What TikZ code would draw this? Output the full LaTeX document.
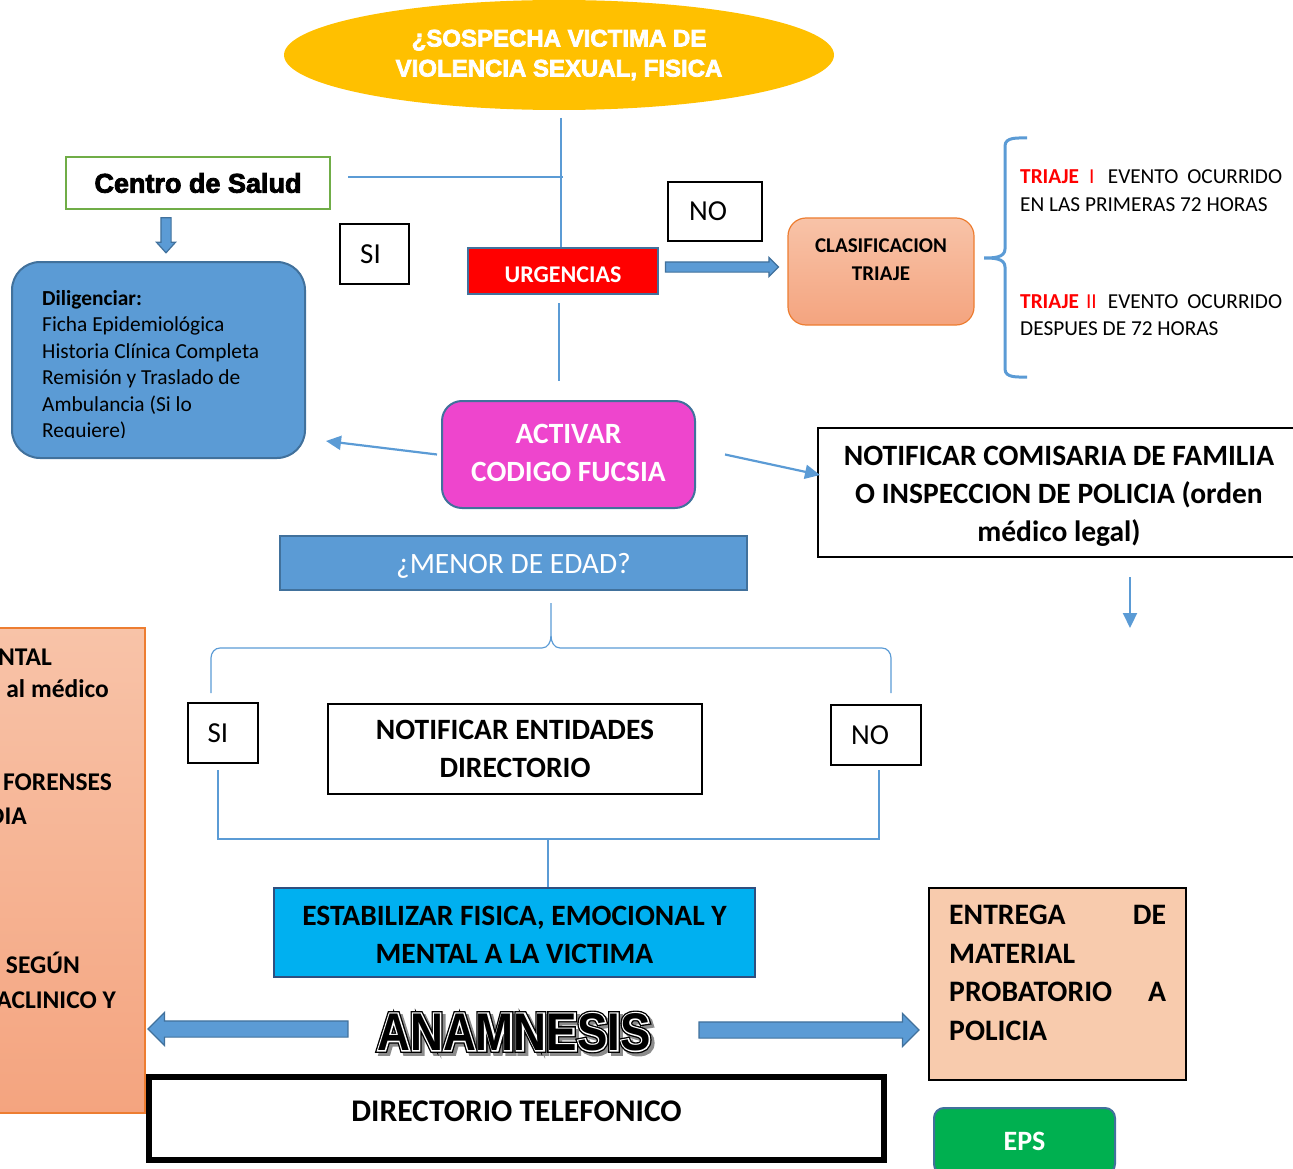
\documentclass[tikz,border=0pt]{standalone}
\usepackage{fontspec}
\setmainfont{Carlito}
\newfontfamily\arialfont[FakeBold=3]{Liberation Sans Bold}
\newfontfamily\anamcore[FakeStretch=0.86]{Liberation Sans Bold}
\newfontfamily\anamwhite[FakeStretch=0.86,FakeBold=5]{Liberation Sans Bold}
\newfontfamily\anamouter[FakeStretch=0.86,FakeBold=10]{Liberation Sans Bold}
\usetikzlibrary{shapes.geometric,shapes.arrows,arrows.meta}
\definecolor{lblue}{HTML}{5B9BD5}
\definecolor{dblue}{HTML}{41719C}
\definecolor{navyc}{HTML}{2F4F7F}
\definecolor{yellowc}{HTML}{FFC000}
\definecolor{fucsia}{HTML}{EE45CD}
\definecolor{cyanc}{HTML}{00B0F0}
\definecolor{epsgreen}{HTML}{00B050}
\definecolor{csgreen}{HTML}{70AD47}
\definecolor{peach}{HTML}{F8CBAD}
\definecolor{orangec}{HTML}{ED7D31}
\definecolor{ortop}{HTML}{F8C3A8}
\definecolor{orbot}{HTML}{F4A47F}
\newcommand\fs[2]{\fontsize{#1}{#2}\selectfont}
\newcommand\shiftv[2]{\raisebox{#1}[\height][\depth]{#2}}
\newcommand\mlines[2]{\raisebox{#1}[\height][\depth]{\begin{tabular}{@{}c@{}}#2\end{tabular}}}
\begin{document}
\begin{tikzpicture}[x=1pt,y=-1pt,
  box/.style={draw=black,line width=1.5pt,inner sep=0pt},
  conn/.style={draw=lblue,line width=1.2pt},
  thinarr/.style={draw=lblue,line width=2.2pt,-{Triangle[length=15pt,width=14pt]}},
  blockarr/.style={single arrow,draw=dblue,fill=lblue,line width=1.2pt,single arrow tip angle=90},
  bracestyle/.style={draw=lblue,line width=3pt},
  ]
\useasboundingbox (0,0) rectangle (1293,1169);
\clip (0,0) rectangle (1293,1169);

% top ellipse
\node[ellipse,fill=yellowc,minimum width=550pt,minimum height=110pt,inner sep=0pt,
  text=white,font=\arialfont\fs{24}{30},align=center] (ell) at (559,55)
  {¿SOSPECHA VICTIMA DE\\VIOLENCIA SEXUAL, FISICA};

% centro de salud
\node[draw=csgreen,line width=2.5pt,minimum width=264pt,minimum height=52pt,inner sep=0pt,
  font=\arialfont\fs{27}{30}] (cs) at (198,183) {Centro de Salud};
\node[blockarr,shape border rotate=270,minimum height=35pt,inner sep=4.5pt,
  single arrow head extend=4.5pt,single arrow tip angle=84] (csarr) at (166,232.5) {};

% SI / NO top
\node[box,minimum width=69pt,minimum height=60pt,font=\fs{29}{32}] (si1) at (374.5,254) {\hspace*{-8pt}SI};
\node[box,minimum width=94pt,minimum height=59pt,font=\fs{29}{32}] (no1) at (715,211.5) {\hspace*{-14pt}NO};

% urgencias
\node[fill=red,draw=dblue,line width=2.5pt,minimum width=190pt,minimum height=46pt,inner sep=0pt,
  text=white,font=\bfseries\fs{24}{26}] (urg) at (563,271) {\shiftv{-4pt}{URGENCIAS}};

\coordinate (t1) at (561,118);
\draw[conn] (t1) -- (t1 |- urg.north);
\coordinate (h1) at (348,177);
\coordinate (h2) at (563,177);
\draw[conn] (h1) -- (h2);
\coordinate (u1) at (559,303);
\coordinate (u2) at (559,381);
\draw[conn] (u1) -- (u2);

\node[blockarr,minimum height=113pt,inner sep=4.5pt,single arrow head extend=4.5pt] (urgarr) at (719.5,267) {};

% clasificacion
\node[draw=orangec,line width=1.2pt,rounded corners=18pt,top color=ortop,bottom color=orbot,
  minimum width=186pt,minimum height=107pt,inner sep=0pt,font=\bfseries\fs{21}{28}] (clas) at (881,271.5)
  {\mlines{11pt}{CLASIFICACION\\TRIAJE}};

% brace triaje
\draw[bracestyle] (1027,138) to[out=180,in=90] (1005,146) -- (1005,249)
  to[out=270,in=0] (984,258) to[out=0,in=90] (1005,267) -- (1005,369)
  to[out=270,in=180] (1027,377);

\node[anchor=north west,inner sep=0pt,align=left,font=\fs{21.3}{28}] (tr1) at (1020,169)
  {\hbox to 262pt{\textcolor{red}{\bfseries TRIAJE}\hspace{10pt}\textcolor{red}{I}\hfill EVENTO\hspace{9pt}OCURRIDO}\\
   EN LAS PRIMERAS 72 HORAS};
\node[anchor=north west,inner sep=0pt,align=left,font=\fs{21.3}{27}] (tr2) at (1020,294)
  {\hbox to 262pt{\textcolor{red}{\bfseries TRIAJE}\hspace{7pt}\textcolor{red}{II}\hfill EVENTO\hspace{9pt}OCURRIDO}\\
   DESPUES DE 72 HORAS};

% diligenciar
\node[fill=lblue,draw=dblue,line width=2pt,rounded corners=28pt,minimum width=293pt,minimum height=196pt] (dil) at (158.5,360) {};
\begin{scope}
\clip (14,264) rectangle (303,437.5);
\node[anchor=north west,inner sep=0pt,align=left,font=\fs{21.4}{26.5}] (dilt) at (42,290)
  {\textbf{Diligenciar:}\\Ficha Epidemiológica\\Historia Clínica Completa\\Remisión y Traslado de\\Ambulancia (Si lo\\Requiere)};
\end{scope}

% activar
\node[fill=fucsia,draw=dblue,line width=2pt,rounded corners=20pt,minimum width=253pt,minimum height=107pt,inner sep=0pt,
  text=white,font=\bfseries\fs{29.4}{38}] (act) at (568.5,454.5) {\mlines{0pt}{ACTIVAR\\CODIGO FUCSIA}};

% notificar comisaria
\node[box,minimum width=482pt,minimum height=129pt,font=\bfseries\fs{29.5}{38}] (notif) at (1059,492.5)
  {\mlines{-3pt}{NOTIFICAR COMISARIA DE FAMILIA\\O INSPECCION DE POLICIA (orden\\médico legal)}};

\coordinate (dlt) at (326,441);
\draw[thinarr] ([xshift=-4pt]act.west) -- (dlt);
\coordinate (nott) at (820,475);
\draw[thinarr] ([xshift=29pt]act.east) -- (nott);
\coordinate (nd1) at (1130,577);
\coordinate (nd2) at (1130,628);
\draw[thinarr] (nd1) -- (nd2);

% menor de edad
\node[fill=lblue,draw=dblue,line width=2pt,minimum width=467pt,minimum height=54pt,inner sep=0pt,
  text=white,font=\fs{29.5}{32}] (menor) at (513.5,563) {\shiftv{-3pt}{¿MENOR DE EDAD?}};

\coordinate (mb) at (551,603);
\draw[conn] (mb) -- (551,636) to[out=270,in=0] (542,648) -- (220,648) to[out=180,in=90] (211,658) -- (211,693);
\draw[conn] (551,636) to[out=270,in=180] (560,648) -- (882,648) to[out=0,in=90] (891,658) -- (891,693);

% SI / entidades / NO
\node[box,minimum width=70pt,minimum height=60pt,font=\fs{29}{32}] (si2) at (223,733) {\hspace*{-10pt}SI};
\node[box,minimum width=374pt,minimum height=90pt,font=\bfseries\fs{29.5}{38}] (ent) at (515,749)
  {\mlines{-2pt}{NOTIFICAR ENTIDADES\\DIRECTORIO}};
\node[box,minimum width=90pt,minimum height=60pt,font=\fs{29}{32}] (no2) at (876,735) {\hspace*{-12pt}NO};

% estabilizar
\node[fill=cyanc,draw=navyc,line width=2pt,minimum width=481pt,minimum height=89pt,inner sep=0pt,
  font=\bfseries\fs{29.5}{38}] (estab) at (514.5,932.5)
  {\mlines{-4pt}{ESTABILIZAR FISICA, EMOCIONAL Y\\MENTAL A LA VICTIMA}};

\coordinate (sib) at (218,770);
\coordinate (nob) at (879,770);
\coordinate (jn) at (548,839);
\draw[conn] (sib) |- (jn) -| (nob);
\draw[conn] (jn) -- (jn |- estab.north);

% left orange box
\node[draw=orangec,line width=1.2pt,top color=ortop,bottom color=orbot,minimum width=185pt,minimum height=485pt] (lbox) at (52.5,870.5) {};
\node[anchor=base east,inner sep=0pt,font=\bfseries\fs{25.5}{28}] (l1) at (52,665) {NTAL};
\node[anchor=base east,inner sep=0pt,font=\bfseries\fs{25.5}{28}] (l2) at (109,697) {al médico};
\node[anchor=base east,inner sep=0pt,font=\bfseries\fs{25.5}{28}] (l3) at (112,790) {FORENSES};
\node[anchor=base east,inner sep=0pt,font=\bfseries\fs{25.5}{28}] (l4) at (27,824) {DIA};
\node[anchor=base east,inner sep=0pt,font=\bfseries\fs{25.5}{28}] (l5) at (80,973) {SEGÚN};
\node[anchor=base east,inner sep=0pt,font=\bfseries\fs{25.5}{28}] (l6) at (116,1008) {ACLINICO Y};

% anamnesis
\node[blockarr,shape border rotate=180,minimum height=200pt,inner sep=7.5pt,single arrow head extend=8.5pt] (arrl) at (252,1029) {};
\node[blockarr,minimum height=220pt,inner sep=7.5pt,single arrow head extend=8.5pt] (arrr) at (805,1030) {};
\node[inner sep=0pt,font=\anamouter\fs{53}{60},text=black!45] (anams) at (517,1035) {ANAMNESIS};
\node[inner sep=0pt,font=\anamouter\fs{53}{60},text=black] (anamo) at (514,1032) {ANAMNESIS};
\node[inner sep=0pt,font=\anamwhite\fs{53}{60},text=white] (anamw) at (514,1032) {ANAMNESIS};
\node[inner sep=0pt,font=\anamcore\fs{53}{60},text=black] (anam) at (514,1032) {ANAMNESIS};

% directorio telefonico
\node[draw=black,line width=6pt,minimum width=735pt,minimum height=83pt,inner sep=0pt,
  font=\bfseries\fs{31.5}{34}] (dir) at (516.5,1118.5) {\shiftv{7pt}{DIRECTORIO TELEFONICO}};

% entrega
\node[fill=peach,draw=black,line width=1.5pt,minimum width=257pt,minimum height=192pt] (entb) at (1057.5,984) {};
\node[anchor=north west,inner sep=0pt,align=left,font=\bfseries\fs{29.7}{38.5}] (entt) at (949,905)
  {\hbox to 217pt{ENTREGA\hfill DE}\\MATERIAL\\\hbox to 217pt{PROBATORIO\hfill A}\\POLICIA};

% EPS
\node[fill=epsgreen,draw=dblue,line width=2pt,rounded corners=10pt,minimum width=181pt,minimum height=66pt,
  text=white,font=\bfseries\fs{28}{30}] (eps) at (1024.5,1141) {EPS};
\end{tikzpicture}
\end{document}
